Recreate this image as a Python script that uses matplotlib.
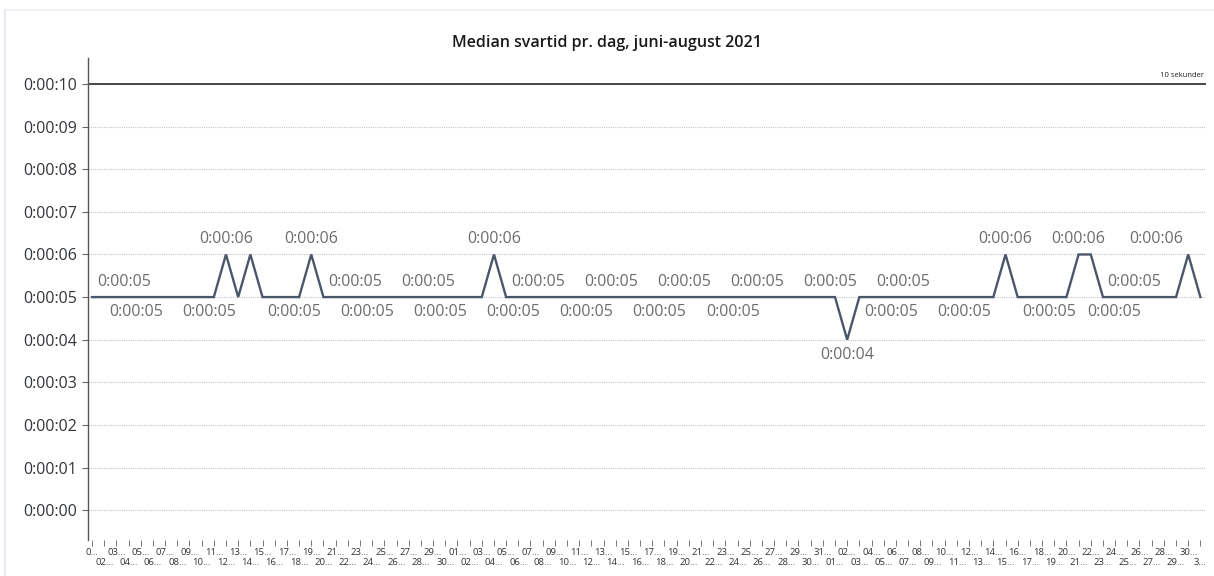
import matplotlib
matplotlib.use("Agg")
import matplotlib.pyplot as plt
import matplotlib.transforms as mtransforms
from matplotlib.lines import Line2D
from matplotlib.ticker import FuncFormatter
import pandas as pd

# median response time per day in seconds, 1 June - 31 August 2021
dates = pd.date_range("2021-06-01", "2021-08-31", freq="D")
seconds = [
    5, 5, 5, 5, 5, 5, 5, 5, 5, 5,
    5, 6, 5, 6, 5, 5, 5, 5, 6, 5,
    5, 5, 5, 5, 5, 5, 5, 5, 5, 5,
    5, 5, 5, 6, 5, 5, 5, 5, 5, 5,
    5, 5, 5, 5, 5, 5, 5, 5, 5, 5,
    5, 5, 5, 5, 5, 5, 5, 5, 5, 5,
    5, 5, 4, 5, 5, 5, 5, 5, 5, 5,
    5, 5, 5, 5, 5, 6, 5, 5, 5, 5,
    5, 6, 6, 5, 5, 5, 5, 5, 5, 5,
    6, 5,
]
y_ticks = [0, 1, 2, 3, 4, 5, 6, 7, 8, 9, 10]

# which points get a visible data label (the rest are hidden by overlap)
labels_above = [2, 11, 18, 21, 27, 33, 36, 42, 48, 54, 60, 66, 75, 81, 85, 90]
labels_below = [3, 9, 16, 22, 28, 34, 40, 46, 52, 62, 65, 71, 78, 83]

tick_labels = [d.strftime("%d") + "…" for d in dates]
tick_labels[0] = "0…"
tick_labels[-1] = "3…"

LINE = "#4a5669"
LABEL = "#6a6d70"
AXIS = "#32363a"
FONT = ["Open Sans", "DejaVu Sans"]

plt.rcParams["font.family"] = FONT

W, H = 1214, 576
fig = plt.figure(figsize=(W / 100, H / 100), dpi=100)
fig.add_artist(Line2D([5 / W, 5 / W], [0, 1 - 10 / H], color="#e6e8f2", lw=1.5))
fig.add_artist(Line2D([5 / W, 1], [1 - 10 / H, 1 - 10 / H], color="#eceef4", lw=1.2))

ax = fig.add_axes([88 / W, 1 - 540 / H, (1206 - 88) / W, (540 - 58) / H])
x = list(range(len(dates)))
ax.plot(x, seconds, color=LINE, lw=1.7, solid_joinstyle="miter", zorder=3)

ax.set_xlim(-0.33, 91.46)
ax.set_ylim(-0.70, 10.61)

ax.set_yticks(y_ticks)
ax.yaxis.set_major_formatter(FuncFormatter(lambda v, p: f"0:00:{int(v):02d}"))
ax.tick_params(axis="y", labelsize=11.5, labelcolor=AXIS, color="#666666",
               length=4, width=0.8, pad=4)

# alternating date labels on two rows
ax.set_xticks(x[0::2], tick_labels[0::2])
ax.set_xticks(x[1::2], tick_labels[1::2], minor=True)
ax.tick_params(axis="x", which="both", labelsize=6.8, labelcolor="#333333",
               color="#777777", length=4, width=0.7)
ax.tick_params(axis="x", which="major", pad=2)
ax.tick_params(axis="x", which="minor", pad=9)

ax.yaxis.grid(True, linestyle=(0, (1, 1)), color="#c4c4c4", lw=0.8)
ax.set_axisbelow(True)
ax.axhline(10, color="#2b2b2b", lw=1.2, zorder=2)
for s in ["top", "right", "bottom"]:
    ax.spines[s].set_visible(False)
ax.spines["left"].set_color("#555555")
ax.spines["left"].set_linewidth(1.0)

trans = mtransforms.blended_transform_factory(ax.transAxes, ax.transData)
ax.text(0.998, 10.12, "10 sekunder", transform=trans, ha="right", va="bottom",
        fontsize=5.5, color="#222222")

peaks = {11, 18, 33, 75, 81, 90, 62}
shift = {90: -23, 83: 8}
for side, days in (("above", labels_above), ("below", labels_below)):
    for d in days:
        v = seconds[d]
        dx = shift.get(d, 0 if d in peaks else 5.3)
        dy = 10.5 if side == "above" else -11
        if d in peaks:
            dy = 11 if side == "above" else -11
        ax.annotate(f"0:00:{v:02d}", (d, v), xytext=(dx, dy),
                    textcoords="offset points", ha="center", va="center",
                    fontsize=11.5, color=LABEL, zorder=4)

fig.text(0.5, 1 - 43 / H, "Median svartid pr. dag, juni-august 2021",
         ha="center", va="center", fontsize=11.5, weight="semibold", color="#1a1a1a")

fig.savefig("out.png", dpi=100)
